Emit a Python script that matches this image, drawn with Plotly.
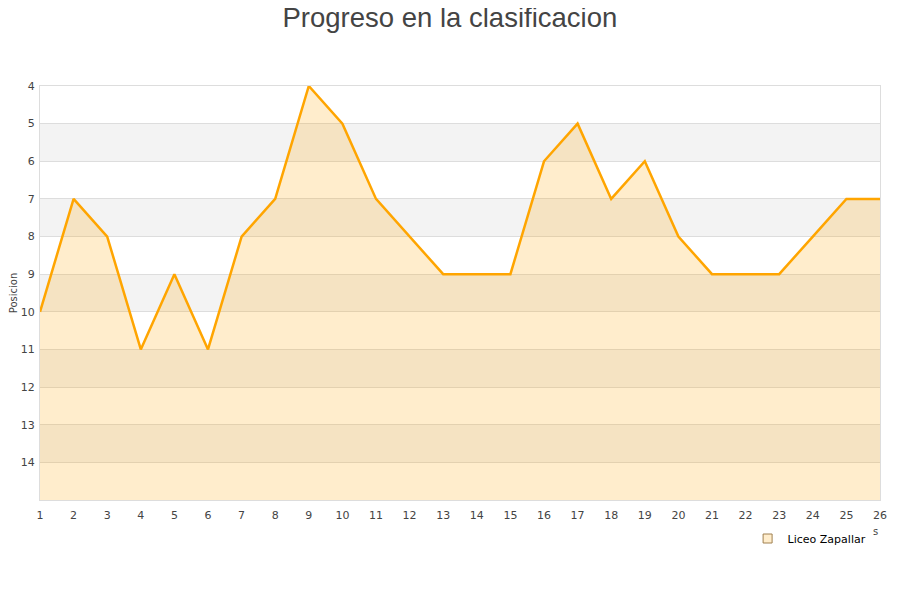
import plotly.graph_objects as go

# jornadas y posicion del equipo
jornadas = list(range(1, 27))
posicion = [10, 7, 8, 11, 9, 11, 8, 7, 4, 5, 7, 8, 9, 9, 9, 6, 5, 7, 6, 8, 9, 9, 9, 8, 7, 7]
equipo = "Liceo Zapallar"
y_ticks = list(range(4, 15))
y_min, y_max = 4, 15

fig = go.Figure()

# base invisible para rellenar hasta el fondo (eje invertido)
fig.add_trace(go.Scatter(
    x=jornadas, y=[y_max] * len(jornadas),
    mode="lines", line=dict(width=0, color="rgba(0,0,0,0)"),
    showlegend=False, hoverinfo="skip"))

fig.add_trace(go.Scatter(
    x=jornadas, y=posicion, name=equipo,
    mode="lines", line=dict(color="#ffa500", width=2.5),
    fill="tonexty", fillcolor="rgba(255,165,0,0.2)",
    showlegend=False))

# solo para la leyenda (cuadradito)
fig.add_trace(go.Scatter(
    x=[None], y=[None], name=equipo, mode="markers",
    marker=dict(symbol="square", size=9, color="#ffedcc",
                line=dict(color="#a08050", width=1))))

# bandas alternas grises
shapes = []
for lo in range(5, y_max, 2):
    shapes.append(dict(type="rect", xref="paper", yref="y", x0=0, x1=1,
                       y0=lo, y1=lo + 1, fillcolor="#f3f3f3",
                       line=dict(width=0), layer="below"))
fig.update_layout(shapes=shapes)

fig.update_layout(
    width=900, height=600,
    paper_bgcolor="white", plot_bgcolor="white",
    margin=dict(l=32, r=28, t=78, b=108),
    title=dict(text="Progreso en la clasificacion", x=0.491, xanchor="center",
               y=1.0, yanchor="top",
               font=dict(family="Liberation Sans, Arial", size=27.5, color="#444")),
    font=dict(family="DejaVu Sans", size=11, color="#444"),
    xaxis=dict(range=[1, 26], tickvals=jornadas, showgrid=False, zeroline=False,
               showline=True, linecolor="#ddd", mirror=True, ticks="",
               automargin=False, ticklabelstandoff=5,
               tickfont=dict(size=11, color="#444")),
    yaxis=dict(range=[y_max, y_min], tickvals=y_ticks, showgrid=True,
               gridcolor="#ddd", zeroline=False, showline=True, linecolor="#ddd",
               mirror=True, ticks="", automargin=False, ticklabelstandoff=2,
               tickfont=dict(size=11, color="#444"),
               title=dict(text="Posicion", font=dict(size=10, color="#444"))),
    legend=dict(x=0.990, y=-0.058, xanchor="right", yanchor="top",
                bgcolor="rgba(255,255,255,0)",
                font=dict(size=11, color="black")),
    showlegend=True,
)

fig.add_annotation(text="s", x=1.0, xref="paper", y=-0.058, yref="paper",
                   xanchor="right", yanchor="top", showarrow=False,
                   font=dict(size=10, color="#444"))

fig.write_html("out.html")
